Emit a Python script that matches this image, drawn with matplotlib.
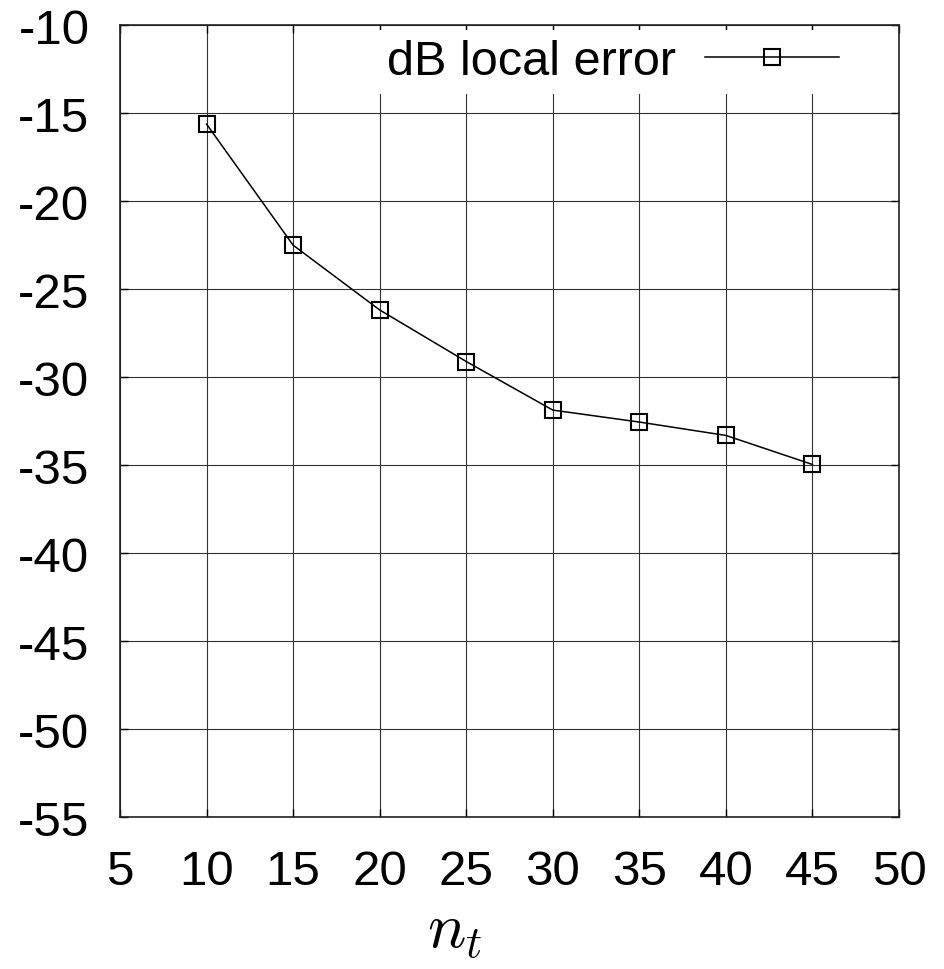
import numpy as np
import matplotlib
matplotlib.use("Agg")
import matplotlib.pyplot as plt

# values
n_t = [10, 15, 20, 25, 30, 35, 40, 45]
db_err = [-15.63, -22.51, -26.19, -29.12, -31.88, -32.56, -33.32, -34.97]
xticks = [5, 10, 15, 20, 25, 30, 35, 40, 45, 50]
yticks = [-55, -50, -45, -40, -35, -30, -25, -20, -15, -10]

plt.rcParams['font.family'] = ['Liberation Sans', 'DejaVu Sans']
plt.rcParams['mathtext.fontset'] = 'cm'
plt.rcParams['axes.unicode_minus'] = False

fig = plt.figure(figsize=(9.45, 9.7), dpi=100)
ax = fig.add_axes([120/945, 1 - 818/970, 779/945, 792/970])

ax.plot(n_t, db_err, color='black', lw=1.1, marker='s', ms=12, mfc='none',
        mec='black', mew=1.5, label='dB local error', zorder=3)

ax.set_xlim(5, 50)
ax.set_ylim(-55, -10)
ax.set_xticks(xticks)
ax.set_yticks(yticks)
ax.grid(True, color='#333333', lw=0.8)
ax.set_axisbelow(True)
ax.tick_params(direction='in', length=6, width=1, top=True, right=True,
               labelsize=35.5)
ax.tick_params(axis='y', pad=22)
ax.tick_params(axis='x', pad=23)
for s in ax.spines.values():
    s.set_linewidth(1.2)
    s.set_color('#222222')

ax.set_xlabel(r'$n_t$', fontsize=46, x=0.43, labelpad=5)

leg = ax.legend(loc='upper right', bbox_to_anchor=(0.935, 0.994), fontsize=35,
                markerfirst=False, frameon=True, handlelength=2.75,
                borderaxespad=0, borderpad=0.2, handletextpad=0.6, framealpha=1)
leg.get_frame().set_edgecolor('white')
leg.get_frame().set_linewidth(0)
leg.get_frame().set_boxstyle('square', pad=0)

fig.savefig('out.png', dpi=100)
